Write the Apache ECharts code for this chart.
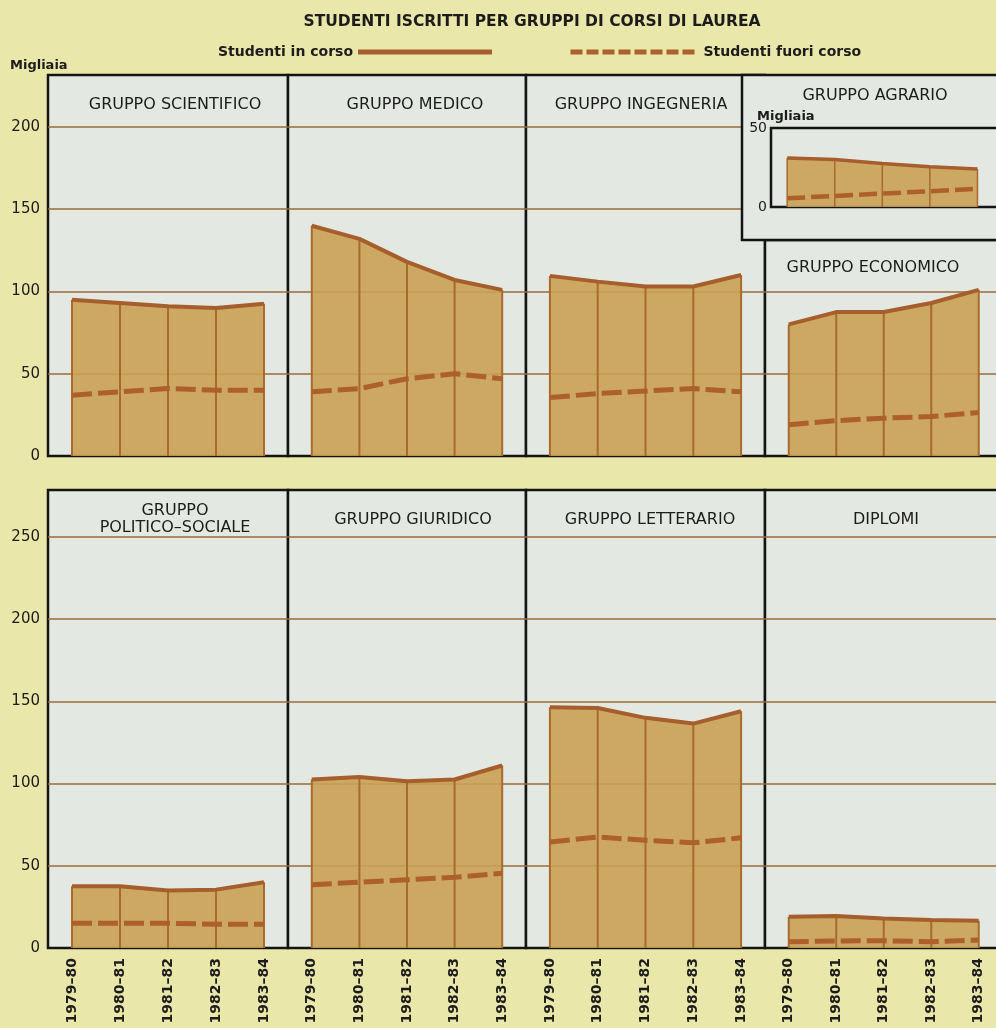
<!DOCTYPE html>
<html><head><meta charset="utf-8">
<script src="https://cdn.jsdelivr.net/npm/echarts@6/dist/echarts.min.js"></script>
<style>html,body{margin:0;padding:0;background:#e9e7a9}#c{width:996px;height:1028px}</style>
</head><body><div id="c"></div>
<script>
// ---- data (migliaia di studenti) ----
const years = ['1979–80', '1980–81', '1981–82', '1982–83', '1983–84'];
const yTicksTop = [0, 50, 100, 150, 200];
const yTicksBottom = [0, 50, 100, 150, 200, 250];
const scientificoIn = [95, 93, 91, 90, 92.5];
const scientificoFuori = [37, 39, 41, 40, 40];
const medicoIn = [140, 132, 118, 107, 101];
const medicoFuori = [39, 41, 47, 50, 47];
const ingegneriaIn = [109.5, 106, 103, 103, 110];
const ingegneriaFuori = [35.5, 38, 39.5, 41, 39];
const agrarioIn = [31, 30, 27.5, 25.5, 24];
const agrarioFuori = [5.5, 7, 8.5, 10, 11.5];
const economicoIn = [80, 87.5, 87.5, 93, 101];
const economicoFuori = [19, 21.5, 23, 24, 26.5];
const politicoIn = [37.5, 37.5, 35, 35.5, 40];
const politicoFuori = [15, 15, 15, 14.5, 14.5];
const giuridicoIn = [102.5, 104, 101.5, 102.5, 111];
const giuridicoFuori = [38.5, 40, 41.5, 43, 45.5];
const letterarioIn = [146.5, 146, 140, 136.5, 144];
const letterarioFuori = [64.5, 67.5, 65.5, 64, 67];
const diplomiIn = [19, 19.5, 18, 17, 16.5];
const diplomiFuori = [3.8, 4.3, 4.4, 3.8, 4.9];

const C = {bg:'#e9e7a9', panel:'#e3e9e2', fill:'#c9a154', top:'#a65e2c', dash:'#ad5f2c',
           vline:'#a96a2c', grid:'#996b38', frame:'#141414', text:'#1c1c1c'};
const TF = 'DejaVu Sans, Liberation Sans, Arial, sans-serif';

// layout of the panels: [left, top, width, height], pixels per unit
const panels = [
  {title:'GRUPPO SCIENTIFICO', inV:scientificoIn, outV:scientificoFuori, rect:[48,75,240,381], k:1.645, yLab:true, xLab:false, tx:170, ty:91},
  {title:'GRUPPO MEDICO', inV:medicoIn, outV:medicoFuori, rect:[288,75,238,381], k:1.645, yLab:false, xLab:false, tx:410, ty:91},
  {title:'GRUPPO INGEGNERIA', inV:ingegneriaIn, outV:ingegneriaFuori, rect:[526,75,239,381], k:1.645, yLab:false, xLab:false, tx:636, ty:91},
  {title:'GRUPPO ECONOMICO', inV:economicoIn, outV:economicoFuori, rect:[765,240,237.5,216], k:1.645, yLab:false, xLab:false, tx:868, ty:254},
  {title:'GRUPPO\nPOLITICO–SOCIALE', inV:politicoIn, outV:politicoFuori, rect:[48,490,240,458], k:1.644, yLab:true, xLab:true, tx:170, ty:497},
  {title:'GRUPPO GIURIDICO', inV:giuridicoIn, outV:giuridicoFuori, rect:[288,490,238,458], k:1.644, yLab:false, xLab:true, tx:408, ty:506},
  {title:'GRUPPO LETTERARIO', inV:letterarioIn, outV:letterarioFuori, rect:[526,490,239,458], k:1.644, yLab:false, xLab:true, tx:645, ty:506},
  {title:'DIPLOMI', inV:diplomiIn, outV:diplomiFuori, rect:[765,490,237.5,458], k:1.644, yLab:false, xLab:true, tx:881, ty:506}
];

const grids = [], xAxes = [], yAxes = [], series = [];
const titles = [
  {text:'STUDENTI ISCRITTI PER GRUPPI DI CORSI DI LAUREA', left:527, top:9, textAlign:'center',
   textStyle:{fontFamily:TF, fontSize:15.5, fontWeight:'bold', color:C.text}},
  {text:'Migliaia', left:5, top:54, textStyle:{fontFamily:TF, fontSize:13, fontWeight:'bold', color:C.text}}
];

panels.forEach((p, i) => {
  const [l, t, w, h] = p.rect;
  grids.push({left:l, top:t, width:w, height:h, show:true, backgroundColor:C.panel,
              borderColor:C.frame, borderWidth:2.5, outerBoundsMode:'none', containLabel:false});
  xAxes.push({type:'category', gridIndex:i, data:years, boundaryGap:true,
    axisLine:{show:false}, axisTick:{show:false},
    axisLabel:{show:p.xLab, rotate:90, margin:10, fontFamily:TF, fontSize:14, fontWeight:'bold', color:C.text, interval:0},
    splitLine:{show:false}});
  yAxes.push({type:'value', gridIndex:i, min:0, max:h / p.k, interval:50,
    axisLine:{show:false}, axisTick:{show:false},
    axisLabel:{show:p.yLab, showMaxLabel:false, margin:8, fontFamily:TF, fontSize:15, color:C.text,
      formatter:v => (v % 50 === 0 ? String(v) : '')},
    splitLine:{show:true, showMinLine:false, showMaxLine:false, lineStyle:{color:C.grid, width:1.6}}});
  titles.push({text:p.title, left:p.tx, top:p.ty, textAlign:'center',
    textStyle:{fontFamily:TF, fontSize:16, fontWeight:'normal', color:C.text, lineHeight:17}});
  series.push(
    {type:'line', name:'area'+i, xAxisIndex:i, yAxisIndex:i, data:p.inV, symbol:'none', silent:true,
     lineStyle:{width:0}, areaStyle:{color:C.fill, opacity:0.9}, z:2},
    {type:'bar', name:'v'+i, xAxisIndex:i, yAxisIndex:i, data:p.inV, barWidth:2, silent:true,
     itemStyle:{color:C.vline}, z:3},
    {type:'line', name:'Studenti in corso', xAxisIndex:i, yAxisIndex:i, data:p.inV, symbol:'none',
     lineStyle:{color:C.top, width:4}, z:4},
    {type:'line', name:'Studenti fuori corso', xAxisIndex:i, yAxisIndex:i, data:p.outV, symbol:'none',
     lineStyle:{color:C.dash, width:5, type:[20, 6]}, z:5}
  );
});

// inset: GRUPPO AGRARIO (own scale 0-50)
const ai = panels.length;
grids.push({left:771, top:128, width:235, height:79, show:true, backgroundColor:C.panel,
            borderColor:C.frame, borderWidth:2.5, outerBoundsMode:'none', containLabel:false, z:60});
xAxes.push({type:'value', gridIndex:ai, min:-0.34, max:4.6, show:false, z:60});
yAxes.push({type:'value', gridIndex:ai, min:0, max:50, interval:50, z:60,
  axisLine:{show:false}, axisTick:{show:false}, splitLine:{show:false},
  axisLabel:{show:true, margin:4, fontFamily:TF, fontSize:14, color:C.text}});
const agIn = agrarioIn.map((v, j) => [j, v]);
const agOut = agrarioFuori.map((v, j) => [j, v]);
series.push(
  {type:'line', name:'area-ag', xAxisIndex:ai, yAxisIndex:ai, data:agIn, symbol:'none', silent:true,
   lineStyle:{width:0}, areaStyle:{color:C.fill, opacity:0.9}, z:61},
  {type:'bar', name:'v-ag', xAxisIndex:ai, yAxisIndex:ai, data:agIn, barWidth:1.5, silent:true,
   itemStyle:{color:C.vline}, z:62},
  {type:'line', name:'Studenti in corso', xAxisIndex:ai, yAxisIndex:ai, data:agIn, symbol:'none',
   lineStyle:{color:C.top, width:3.5}, z:63},
  {type:'line', name:'Studenti fuori corso', xAxisIndex:ai, yAxisIndex:ai, data:agOut, symbol:'none',
   lineStyle:{color:C.dash, width:4.5, type:[18, 6]}, z:64}
);
titles.push(
  {text:'GRUPPO AGRARIO', left:870, top:83, textAlign:'center', z:70,
   textStyle:{fontFamily:TF, fontSize:16, fontWeight:'normal', color:C.text}},
  {text:'Migliaia', left:752, top:105, z:70,
   textStyle:{fontFamily:TF, fontSize:13, fontWeight:'bold', color:C.text}}
);

const option = {
  backgroundColor: C.bg,
  animation: false,
  title: titles,
  legend: [
    {data:['Studenti in corso'], left:213, top:40, align:'right', icon:'rect', itemWidth:134, itemHeight:5,
     selectedMode:false, itemStyle:{color:C.top}, textStyle:{fontFamily:TF, fontSize:14, fontWeight:'bold', color:C.text}},
    {data:['Studenti fuori corso'], left:563, top:40, align:'left', itemWidth:128, itemHeight:6,
     selectedMode:false, itemStyle:{color:'rgba(0,0,0,0)', borderWidth:0, opacity:0},
     lineStyle:{color:C.dash, width:5, type:[12, 4]},
     textStyle:{fontFamily:TF, fontSize:14, fontWeight:'bold', color:C.text}}
  ],
  graphic: [
    {type:'rect', z:50, shape:{x:742, y:75, width:270, height:165},
     style:{fill:C.panel, stroke:C.frame, lineWidth:2.5}}
  ],
  grid: grids, xAxis: xAxes, yAxis: yAxes, series: series
};
const chart = echarts.init(document.getElementById('c'), null, {renderer:'canvas'});
chart.setOption(option);
</script></body></html>
